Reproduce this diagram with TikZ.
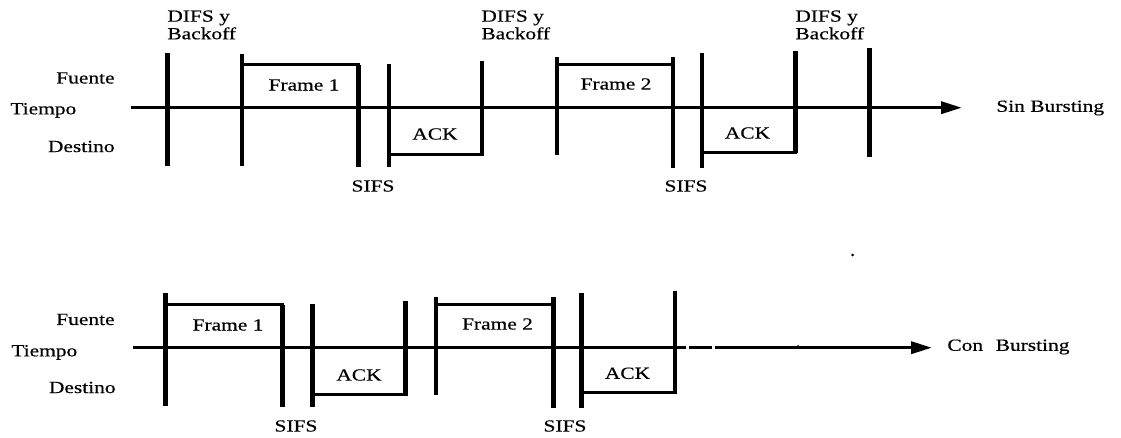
\documentclass[tikz,border=0pt]{standalone}
\usepackage{fontspec}
\setmainfont{Liberation Serif}[FakeStretch=1.26,FakeBold=0.4]
\usetikzlibrary{arrows.meta}

\begin{document}
\begin{tikzpicture}[x=0.5pt,y=-0.5pt,>={Triangle[length=10.5pt,width=6pt]},
  txt/.style={font=\fontsize{8.5}{7.8}\selectfont,inner sep=0pt},
  tick/.style={line width=2.3pt},
  box/.style={line width=1.5pt},
  axis/.style={line width=1.75pt}]
  \useasboundingbox (0,0) rectangle (1121,438);
  % sin bursting
  \coordinate (t0) at (131,107.7);
  \coordinate (t1) at (962,107.7);
  \draw[axis,->] (t0) -- (t1);
  \foreach \x/\a/\b in {167.5/53/166, 242/54/166, 358.5/65/166.7, 389/64/166.7,
      482/61/156, 557/57/155, 673/57/168, 702/53/167.7, 795.5/51/153.3, 869.3/48/157.3}
    \draw[tick] (\x,\a) -- (\x,\b);
  \draw[box] (242,65) rectangle (358.5,107.7);
  \draw[box] (389,107.7) rectangle (482,154.3);
  \draw[box] (557,65) rectangle (673,107.7);
  \draw[box] (702,107.7) rectangle (795.5,152.7);
  \node[txt] (f1) at (304,85) {Frame 1};
  \node[txt] (a1) at (435,134) {ACK};
  \node[txt] (f2) at (616,84) {Frame 2};
  \node[txt] (a2) at (747.5,133) {ACK};
  \node[txt] (s1) at (373,186) {SIFS};
  \node[txt] (s2) at (686,186) {SIFS};
  \foreach \x [count=\i] in {167,481,795}
    \node[txt,align=left,anchor=north west] (d\i) at (\x,10) {DIFS y\\Backoff};
  \node[txt,anchor=east] (fu) at (115,78) {Fuente};
  \node[txt,anchor=west] (ti) at (10,110.5) {Tiempo};
  \node[txt,anchor=east] (de) at (115,146.5) {Destino};
  \node[txt,anchor=west] (sin) at (996,108) {Sin Bursting};
  % con bursting
  \coordinate (u0) at (133,347.7);
  \coordinate (u1) at (686,347.7);
  \coordinate (u2) at (689,347.7);
  \coordinate (u3) at (712,347.7);
  \coordinate (u4) at (715,347.7);
  \coordinate (u5) at (932,347.7);
  \draw[axis] (u0) -- (u1);
  \draw[axis] (u2) -- (u3);
  \draw[axis,->] (u4) -- (u5);
  \foreach \x/\a/\b in {165.7/293/405.7, 282.7/305/407.3, 312.7/304/407.3, 405.7/300.7/396,
      436/297.3/395, 553.3/297/407.7, 581.7/292.7/407.7, 675/290.7/393.3}
    \draw[tick] (\x,\a) -- (\x,\b);
  \draw[box] (165.7,305) rectangle (282.7,347.7);
  \draw[box] (312.7,347.7) rectangle (405.7,395);
  \draw[box] (436,305) rectangle (553.3,347.7);
  \draw[box] (581.7,347.7) rectangle (675,392.7);
  \node[txt] (bf1) at (228,325) {Frame 1};
  \node[txt] (ba1) at (359,375) {ACK};
  \node[txt] (bf2) at (497.5,324) {Frame 2};
  \node[txt] (ba2) at (627.5,373.3) {ACK};
  \node[txt] (bs1) at (296,426) {SIFS};
  \node[txt] (bs2) at (565,426) {SIFS};
  \node[txt,anchor=east] (bfu) at (115,319.5) {Fuente};
  \node[txt,anchor=west] (bti) at (11,352.5) {Tiempo};
  \node[txt,anchor=east] (bde) at (116,387.5) {Destino};
  \node[txt,anchor=west] (con) at (947,347) {Con\hspace{6.3pt}Bursting};
  \fill (852.5,255) circle (1.5);
  \fill (798,346) circle (1);
\end{tikzpicture}
\end{document}
